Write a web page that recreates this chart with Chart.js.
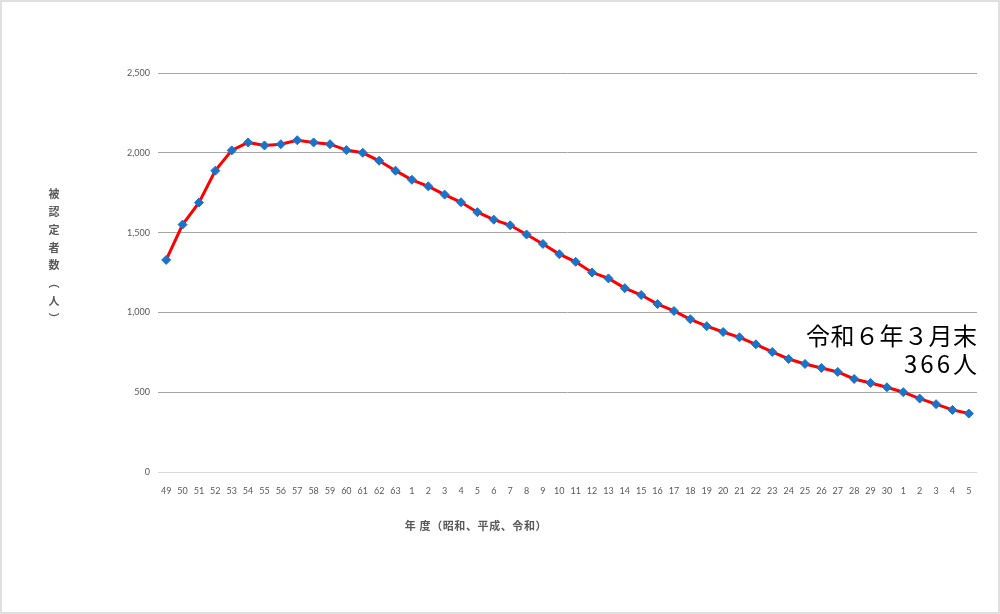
<!DOCTYPE html>
<html lang="ja">
<head>
<meta charset="utf-8">
<title>被認定者数の推移</title>
<script src="https://cdn.jsdelivr.net/npm/chart.js@4/dist/chart.umd.min.js"></script>
<style>
    body { margin: 0; background: #ffffff; }
    #wrap { position: relative; width: 1000px; height: 614px; }
    #frame {
        position: absolute; left: 0; top: 0; width: 1000px; height: 614px;
        box-sizing: border-box; border: 2px solid #e0e0e0; pointer-events: none;
    }
</style>
</head>
<body>
<div id="wrap">
    <canvas id="chart" width="1000" height="614"></canvas>
    <div id="frame"></div>
</div>
<script>
// 年度ラベル（昭和49～63、平成1～30、令和1～5）
const yearLabels = [
    '49', '50', '51', '52', '53', '54', '55', '56', '57', '58', '59', '60', '61', '62', '63',
    '1', '2', '3', '4', '5', '6', '7', '8', '9', '10', '11', '12', '13', '14', '15',
    '16', '17', '18', '19', '20', '21', '22', '23', '24', '25', '26', '27', '28', '29', '30',
    '1', '2', '3', '4', '5'
];

// 被認定者数（人）
const certifiedCounts = [
    1329, 1550, 1688, 1888, 2015, 2065, 2046, 2054, 2079, 2065, 2054, 2017, 2000, 1950, 1888,
    1831, 1790, 1738, 1690, 1628, 1581, 1546, 1488, 1429, 1365, 1317, 1250, 1213, 1152, 1109,
    1052, 1009, 957, 914, 877, 844, 800, 752, 708, 677, 652, 627, 583, 558, 531,
    500, 460, 425, 389, 366
];

const yTicks = [0, 500, 1000, 1500, 2000, 2500];

const yTitleChars = ['被', '認', '定', '者', '数', '︵', '人', '︶'];
const xTitle = '年 度（昭和、平成、令和）';
const noteLines = ['令和６年３月末', '366人'];

const axisGray = '#595959';
const cjkFont = '"Noto Sans CJK JP", "Noto Sans", sans-serif';

// 軸タイトルと注記を描く
const textPlugin = {
    id: 'textPlugin',
    afterDraw(chart) {
        const ctx = chart.ctx;
        ctx.save();

        // 縦書きの軸タイトル
        ctx.fillStyle = axisGray;
        ctx.font = 'bold 11px ' + cjkFont;
        ctx.textAlign = 'center';
        ctx.textBaseline = 'middle';
        yTitleChars.forEach((ch, i) => {
            ctx.fillText(ch, 54, 194 + i * 17.8);
        });

        // 横軸タイトル
        ctx.letterSpacing = '0.6px';
        ctx.fillText(xTitle, 476, 526);

        // 注記
        ctx.fillStyle = '#000000';
        ctx.font = '24px ' + cjkFont;
        ctx.textAlign = 'right';
        ctx.letterSpacing = '0.5px';
        ctx.fillText(noteLines[0], 977.5, 336);
        ctx.letterSpacing = '3px';
        ctx.fillText(noteLines[1], 980, 364);

        ctx.restore();
    }
};

new Chart(document.getElementById('chart'), {
    type: 'line',
    data: {
        labels: yearLabels,
        datasets: [{
            data: certifiedCounts,
            borderColor: '#ff0000',
            borderWidth: 3,
            tension: 0,
            pointStyle: 'rectRot',
            pointRadius: 4.5,
            pointBackgroundColor: '#1b72c8',
            pointBorderColor: '#1b72c8',
            pointBorderWidth: 1
        }]
    },
    options: {
        responsive: false,
        animation: false,
        devicePixelRatio: 1,
        layout: {
            padding: { top: 73, right: 23, left: 0, bottom: 0 }
        },
        plugins: {
            legend: { display: false },
            tooltip: { enabled: false }
        },
        scales: {
            x: {
                offset: true,
                grid: { display: false },
                border: { display: false },
                ticks: {
                    autoSkip: false,
                    maxRotation: 0,
                    padding: 6,
                    color: axisGray,
                    font: { family: 'Lato, "Open Sans", sans-serif', size: 9 }
                },
                afterFit: (scale) => { scale.height = 142; }
            },
            y: {
                min: 0,
                max: 2500,
                afterBuildTicks: (scale) => {
                    scale.ticks = yTicks.map(v => ({ value: v }));
                },
                grid: {
                    color: (c) => c.tick && c.tick.value === 0 ? '#d9d9d9' : '#a6a6a6',
                    lineWidth: 1,
                    drawTicks: false
                },
                border: { display: false },
                ticks: {
                    padding: 8,
                    color: axisGray,
                    font: { family: 'Lato, "Open Sans", sans-serif', size: 9 },
                    callback: (value) => value.toLocaleString('en-US')
                },
                afterFit: (scale) => { scale.width = 158; }
            }
        }
    },
    plugins: [textPlugin]
});
</script>
</body>
</html>
